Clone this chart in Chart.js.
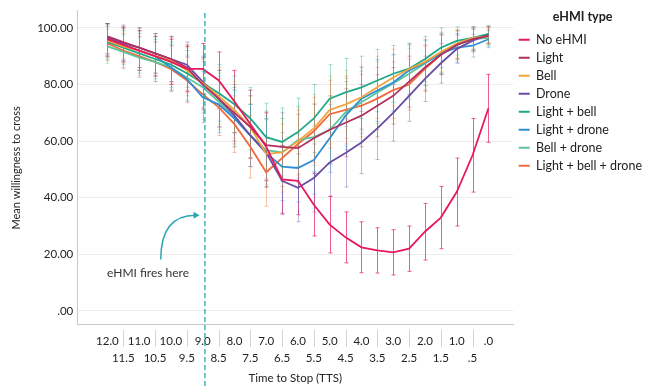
<!DOCTYPE html>
<html>
<head>
<meta charset="utf-8">
<script src="https://cdn.jsdelivr.net/npm/chart.js@4.4.1/dist/chart.umd.min.js"></script>
<style>
  html, body { margin: 0; padding: 0; background: #fff; }
  #wrap { width: 652px; height: 389px; position: relative; }
</style>
</head>
<body>
<div id="wrap"><canvas id="chart"></canvas></div>
<script>
// ==================== Data ====================
const tts = [12.0, 11.5, 11.0, 10.5, 10.0, 9.5, 9.0, 8.5, 8.0, 7.5, 7.0, 6.5, 6.0,
             5.5, 5.0, 4.5, 4.0, 3.5, 3.0, 2.5, 2.0, 1.5, 1.0, 0.5, 0.0];
const yTicks = [0, 20, 40, 60, 80, 100];

const noEhmi         = [96, 94, 92, 90, 88, 85.5, 85.5, 81.5, 74, 66, 58, 46.5, 46, 37.5, 30.5, 26, 22.5, 21.4, 20.7, 22, 28, 33, 42, 55, 71.6];
const light          = [97, 95, 93, 91, 89, 86, 80, 75, 70, 65, 58.6, 58, 57.5, 61, 64, 66.5, 69, 72.5, 76, 81, 86, 90.5, 94, 96, 97.2];
const bell           = [95.5, 93.5, 92, 90, 88.5, 85, 80.5, 76, 71, 65, 55.5, 56, 60, 64.5, 71, 73, 75.5, 79, 82.5, 85.5, 88, 91.5, 94.5, 96.5, 97];
const drone          = [96.5, 94.5, 93, 91, 89, 87, 81, 75, 69, 62, 56, 46, 43.5, 47, 52.5, 55.8, 59.5, 64.5, 70, 76, 82, 87.5, 92.5, 95.5, 97.5];
const lightBell      = [95, 93, 91, 89, 87, 84, 80.5, 77, 73, 68, 61.4, 59.7, 63.2, 68, 75, 77.2, 79, 81.4, 83.8, 85.6, 89, 93, 95.4, 96.5, 97.9];
const lightDrone     = [96, 94, 92, 90, 86, 82, 75.5, 73, 68, 62, 55.8, 51, 50.5, 53.3, 61, 69, 75, 77.9, 80.7, 85, 87.7, 90.9, 93, 93.7, 96];
const bellDrone      = [93.5, 91.5, 89.5, 88, 86, 82.5, 79, 74, 68, 62, 56.8, 56, 60.4, 61.4, 63.9, 70.2, 73.7, 77.2, 80.4, 83.8, 87.4, 91.2, 94, 96, 96.5];
const lightBellDrone = [94.5, 92, 90, 88, 85.5, 81.5, 76.5, 72, 66, 58, 49, 54, 59, 63.5, 69.5, 71, 72.5, 75, 78, 80, 85.5, 90.5, 94, 96, 97.5];

// half-width of the error bars (95% CI)
const errNoEhmi = [6, 6, 7, 7, 8, 8, 9, 10, 11, 12, 12, 12, 12, 11, 10, 9, 9, 8, 8, 8, 10, 11, 12, 13, 12];
const errOthers = [6, 6, 7, 7, 8, 8, 9, 10, 10, 11, 12, 12, 12, 12, 12, 12, 11, 11, 10, 9, 8, 7, 5, 4, 3];

const seriesNames  = ['No eHMI', 'Light', 'Bell', 'Drone', 'Light + bell', 'Light + drone', 'Bell + drone', 'Light + bell + drone'];
const seriesValues = [noEhmi, light, bell, drone, lightBell, lightDrone, bellDrone, lightBellDrone];
const seriesColors = ['#e8195b', '#b1305f', '#f2a33a', '#6a4ca5', '#1fa98a', '#2f8fd3', '#5ec49c', '#f2693c'];

const firesAt = 8.93;

// ==================== Plugins ====================
function hexA(hex, a) {
    const n = parseInt(hex.slice(1), 16);
    return `rgba(${(n >> 16) & 255}, ${(n >> 8) & 255}, ${n & 255}, ${a})`;
}

const errorBars = {
    id: 'errorBars',
    beforeDatasetsDraw(chart) {
        const { ctx, scales: { x, y } } = chart;
        ctx.save();
        ctx.lineWidth = 1;
        seriesValues.forEach((vals, s) => {
            const err = s === 0 ? errNoEhmi : errOthers;
            ctx.strokeStyle = hexA(seriesColors[s], s === 0 ? 0.7 : 0.4);
            vals.forEach((v, i) => {
                const px = Math.round(x.getPixelForValue(tts[i])) + 0.5;
                const top = y.getPixelForValue(Math.min(v + err[i], 101.5));
                const bot = y.getPixelForValue(v - err[i]);
                ctx.beginPath();
                ctx.moveTo(px, top); ctx.lineTo(px, bot);
                ctx.moveTo(px - 2, top); ctx.lineTo(px + 2, top);
                ctx.moveTo(px - 2, bot); ctx.lineTo(px + 2, bot);
                ctx.stroke();
            });
        });
        ctx.restore();
    }
};

const extras = {
    id: 'extras',
    afterDraw(chart) {
        const { ctx, chartArea, scales: { x, y } } = chart;
        ctx.save();

        // separators between the upper-row labels
        ctx.strokeStyle = '#d4d4d4';
        ctx.lineWidth = 1;
        tts.forEach(t => {
            if (Number.isInteger(t)) return;
            const px = Math.round(x.getPixelForValue(t)) + 0.5;
            ctx.beginPath();
            ctx.moveTo(px, chartArea.bottom + 5);
            ctx.lineTo(px, chartArea.bottom + 22);
            ctx.stroke();
        });

        // dashed "fires" line
        const fx = x.getPixelForValue(firesAt);
        ctx.strokeStyle = '#2aa7b3';
        ctx.lineWidth = 1.3;
        ctx.setLineDash([5, 3]);
        ctx.beginPath();
        ctx.moveTo(fx, chartArea.top + 2);
        ctx.lineTo(fx, chart.height);
        ctx.stroke();
        ctx.setLineDash([]);

        // annotation arrow
        const sx = x.getPixelForValue(10.32), sy = y.getPixelForValue(18.2);
        const ex = x.getPixelForValue(9.1), ey = y.getPixelForValue(33.8);
        ctx.strokeStyle = '#2aa7b3';
        ctx.fillStyle = '#2aa7b3';
        ctx.lineWidth = 1.5;
        ctx.beginPath();
        ctx.moveTo(sx, sy);
        ctx.quadraticCurveTo(sx, ey, ex - 4, ey);
        ctx.stroke();
        ctx.beginPath();
        ctx.moveTo(ex, ey);
        ctx.lineTo(ex - 6, ey - 3.5);
        ctx.lineTo(ex - 6, ey + 3.5);
        ctx.closePath();
        ctx.fill();

        ctx.fillStyle = '#333';
        ctx.font = '12px Lato';
        ctx.textAlign = 'center';
        ctx.textBaseline = 'middle';
        ctx.fillText('eHMI fires here', x.getPixelForValue(10.72), y.getPixelForValue(13.5));
        ctx.restore();
    }
};

// ==================== Chart ====================
Chart.defaults.font.family = 'Lato';
Chart.defaults.color = '#222';

const ctx = document.getElementById('chart').getContext('2d');
new Chart(ctx, {
    type: 'line',
    data: {
        datasets: seriesNames.map((name, s) => ({
            label: name,
            data: tts.map((t, i) => ({ x: t, y: seriesValues[s][i] })),
            borderColor: seriesColors[s],
            backgroundColor: seriesColors[s],
            borderWidth: 1.8,
            pointRadius: 0,
            tension: 0,
            fill: false
        }))
    },
    options: {
        responsive: true,
        maintainAspectRatio: false,
        animation: false,
        layout: { padding: { left: 10, right: 0, top: 5, bottom: 4 } },
        plugins: {
            legend: {
                position: 'right',
                align: 'start',
                title: {
                    display: true,
                    text: 'eHMI type',
                    font: { size: 12.5, weight: 'bold' },
                    padding: { top: 6, bottom: 2 }
                },
                labels: {
                    usePointStyle: true,
                    pointStyle: 'line',
                    pointStyleWidth: 11,
                    boxHeight: 12,
                    padding: 5.5,
                    color: '#222',
                    font: { size: 12.5 }
                }
            },
            tooltip: { enabled: false }
        },
        scales: {
            x: {
                type: 'linear',
                reverse: true,
                min: -0.78,
                max: 12.95,
                afterBuildTicks: axis => { axis.ticks = tts.map(v => ({ value: v })); },
                grid: { display: false },
                border: { display: true, color: '#c8c8c8' },
                ticks: {
                    autoSkip: false,
                    maxRotation: 0,
                    padding: 0,
                    font: { size: 11.5, lineHeight: 1.45 },
                    color: '#222',
                    callback: v => {
                        let s = v === 0 ? '.0' : v === 0.5 ? '.5' : v.toFixed(1);
                        return Number.isInteger(v) ? [s, ''] : ['', s];
                    }
                },
                title: {
                    display: true,
                    text: 'Time to Stop (TTS)',
                    font: { size: 11.5 },
                    padding: { top: 5, bottom: 0 }
                }
            },
            y: {
                min: -4.9,
                max: 106,
                afterBuildTicks: axis => { axis.ticks = yTicks.map(v => ({ value: v })); },
                grid: { color: '#ececec', drawTicks: false },
                border: { display: true, color: '#c8c8c8' },
                ticks: {
                    padding: 4,
                    font: { size: 11.5 },
                    color: '#222',
                    callback: v => v === 0 ? '.00' : v.toFixed(2)
                },
                title: {
                    display: true,
                    text: 'Mean willingness to cross',
                    font: { size: 11 },
                    padding: { top: 0, bottom: 10 }
                }
            }
        }
    },
    plugins: [errorBars, extras]
});
</script>
</body>
</html>
